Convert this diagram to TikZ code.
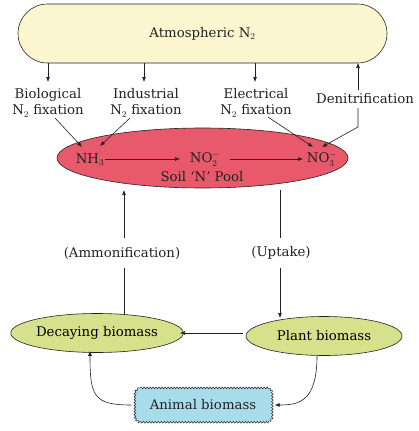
\documentclass[tikz,border=0pt]{standalone}
\usepackage{fontspec}
\setmainfont{DejaVu Serif}
\usetikzlibrary{arrows.meta,decorations.pathmorphing,shapes.geometric}
\definecolor{atmc}{HTML}{FBF6CF}
\definecolor{poolc}{HTML}{E8596C}
\definecolor{bioc}{HTML}{D6E18C}
\definecolor{anic}{HTML}{A9DCEA}
\definecolor{linec}{HTML}{222222}
\begin{document}
\begin{tikzpicture}[x=1pt,y=-1pt,
  font=\fontsize{13.3}{16}\selectfont,
  arr/.style={-{Latex[length=5pt,width=4pt]}, line width=0.6pt, draw=linec},
  ln/.style={line width=0.6pt, draw=linec},
  lbl/.style={align=center, inner sep=1pt, text=linec},
  bioe/.style={ellipse, draw=linec, line width=0.6pt, fill=bioc, minimum width=156pt, minimum height=39pt, inner sep=0pt},
  snk/.style={draw=linec, line width=0.5pt, decorate, decoration={snake, amplitude=0.9pt, segment length=3pt}}]
\useasboundingbox (0,0) rectangle (418,431);

% Atmosphere
\node[draw=linec, line width=0.6pt, fill=atmc, rounded corners=29.5pt,
      minimum width=369pt, minimum height=59pt, text=linec] (atm) at (202.5,33.5) {Atmospheric N$_2$};

% Labels
\node[lbl] (bio) at (48,103) {Biological\\N$_2$ fixation};
\node[lbl] (ind) at (146,103) {Industrial\\N$_2$ fixation};
\node[lbl] (ele) at (256,103) {Electrical\\N$_2$ fixation};
\node[lbl] (den) at (365,99) {Denitrification};

% Soil pool
\node[ellipse, draw=linec, line width=0.6pt, fill=poolc, minimum width=291pt, minimum height=60pt] (pool) at (202.5,158) {};
\node[lbl] (nh3) at (90,160) {NH$_3$};
\node[lbl] (no2) at (205,159) {NO$_2^-$};
\node[lbl] (no3) at (322,159) {NO$_3^-$};
\node[lbl] (soil) at (202,177) {Soil ‘N’ Pool};

% arrows from atmosphere
\draw[arr] (bio.north |- atm.south) -- (48,82);
\draw[arr] (144,63) -- (144,82);
\draw[arr] (255,63) -- (255,82);
\coordinate (denx) at (358,108);
\draw[arr] (358,90) -- (358,63);

% into pool
\coordinate (b1) at (55,118);  \coordinate (b2) at (82,147);
\coordinate (i1) at (130,118); \coordinate (i2) at (100,146);
\coordinate (e1) at (268,117); \coordinate (e2) at (313,147);
\coordinate (d2) at (322,147);
\draw[arr] (b1) -- (b2);
\draw[arr] (i1) -- (i2);
\draw[arr] (e1) -- (e2);
\draw[arr] (denx) -- (358,127) -- (d2);

\draw[arr] (105,159) -- (180,159);
\draw[arr] (230,159) -- (303,159);

% Ammonification / Uptake
\node[lbl] (amm) at (122,253) {(Ammonification)};
\node[lbl] (upt) at (281,253) {(Uptake)};

\node[bioe] (dec) at (97,333) {Decaying biomass};
\node[bioe] (plant) at (324,336) {Plant biomass};

\draw[arr] (124,238) -- (124,190);
\draw[ln] (280,190) -- (280,238);
\draw[ln] (124,268) -- (124,314);
\draw[arr] (280,268) -- (280,318);

\draw[arr] (243,333) -- (180,333);

% Animal
\node[fill=anic, rounded corners=6pt, minimum width=137pt, minimum height=34pt,
      text=linec] (ani) at (203,405) {Animal biomass};
\draw[snk] ([xshift=6pt]ani.north west) -- ([xshift=-6pt]ani.north east)
  to[out=0,in=90] ([yshift=-6pt]ani.north east) -- ([yshift=6pt]ani.south east)
  to[out=-90,in=0] ([xshift=-6pt]ani.south east) -- ([xshift=6pt]ani.south west)
  to[out=180,in=-90] ([yshift=6pt]ani.south west) -- ([yshift=-6pt]ani.north west)
  to[out=90,in=180] cycle;

\draw[arr] ([xshift=-7pt]plant.south) .. controls +(0,45) and +(25,0) .. ([xshift=3pt]ani.east);
\draw[arr] ([xshift=-3pt]ani.west) .. controls +(-38,0) and +(0,45) .. ([xshift=-7pt,yshift=2pt]dec.south);
\end{tikzpicture}
\end{document}
